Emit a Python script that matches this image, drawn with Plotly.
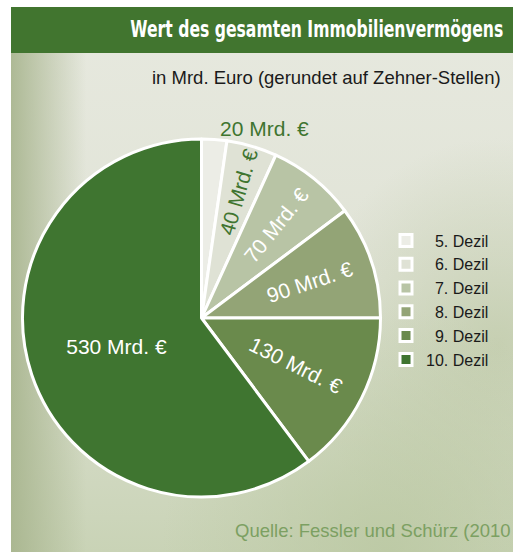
import base64
import plotly.graph_objects as go

# ---- data ----
labels = ["5. Dezil", "6. Dezil", "7. Dezil", "8. Dezil", "9. Dezil", "10. Dezil"]
values = [20, 40, 70, 90, 130, 530]
unit = "Mrd. €"
colors = ["#ecede6", "#dfe2d5", "#b8c4a5", "#93a476", "#6a8a4c", "#3f7530"]
text_colors = ["#3f7530", "#3f7530", "#ffffff", "#ffffff", "#ffffff", "#ffffff"]
title = "Wert des gesamten Immobilienvermögens"
subtitle = "in Mrd. Euro (gerundet auf Zehner-Stellen)"
source = "Quelle: Fessler und Schürz (2010"

W, H = 513, 552

# legend names padded with a figure space so "Dezil" lines up
legend_names = [("\u2007" if len(l.split(".")[0]) == 1 else "") + l for l in labels]
all_texts = [f"{v} {unit}" for v in values]
big = values.index(max(values))
texts_a = [t if i != big else "" for i, t in enumerate(all_texts)]
texts_b = [t if i == big else "" for i, t in enumerate(all_texts)]
positions = ["outside" if v == min(values) else "inside" for v in values]

dom_x = [22 / W, 381 / W]
dom_y = [1 - 497 / H, 1 - 139 / H]

font_main = "Liberation Sans, Arial, sans-serif"

fig = go.Figure()
fig.add_trace(go.Pie(
    labels=legend_names, values=values, sort=False, direction="clockwise", rotation=0,
    marker=dict(colors=colors, line=dict(color="#ffffff", width=3)),
    text=texts_a, textinfo="text", textposition=positions,
    insidetextorientation="radial",
    textfont=dict(family=font_main, size=21, color=text_colors),
    outsidetextfont=dict(family=font_main, size=21, color="#3f7530"),
    domain=dict(x=dom_x, y=dom_y), hoverinfo="label+value",
))
fig.add_trace(go.Pie(
    labels=[l + " " for l in labels], values=values, sort=False, direction="clockwise", rotation=0,
    marker=dict(colors=["rgba(0,0,0,0)"] * len(values), line=dict(width=0)),
    text=texts_b, textinfo="text", textposition="inside",
    insidetextorientation="horizontal",
    textfont=dict(family=font_main, size=21, color="#ffffff"),
    domain=dict(x=dom_x, y=dom_y), showlegend=False, hoverinfo="skip",
))

svg = """<svg xmlns="http://www.w3.org/2000/svg" width="502" height="545" viewBox="0 0 502 545" preserveAspectRatio="none">
<defs>
<linearGradient id="v" x1="0" y1="0" x2="0" y2="1">
<stop offset="0" stop-color="#e7e9df"/>
<stop offset="0.5" stop-color="#e0e3d6"/>
<stop offset="1" stop-color="#c9d3b6"/>
</linearGradient>
<linearGradient id="h" x1="0" y1="0" x2="1" y2="0">
<stop offset="0" stop-color="#a7b48d" stop-opacity="0.9"/>
<stop offset="0.15" stop-color="#a7b48d" stop-opacity="0"/>
</linearGradient>
<radialGradient id="r" cx="0.97" cy="0.62" r="0.38">
<stop offset="0" stop-color="#bfcaa8" stop-opacity="0.75"/>
<stop offset="1" stop-color="#bfcaa8" stop-opacity="0"/>
</radialGradient>
<radialGradient id="b" cx="0.75" cy="1.0" r="0.45">
<stop offset="0" stop-color="#b9c7a0" stop-opacity="0.75"/>
<stop offset="1" stop-color="#b9c7a0" stop-opacity="0"/>
</radialGradient>
</defs>
<rect width="502" height="545" fill="url(#v)"/>
<rect width="502" height="545" fill="url(#r)"/>
<rect width="502" height="545" fill="url(#b)"/>
<rect width="502" height="545" fill="url(#h)"/>
</svg>"""
src = "data:image/svg+xml;base64," + base64.b64encode(svg.encode("utf-8")).decode("ascii")

fig.update_layout(
    width=W, height=H, margin=dict(l=0, r=0, t=0, b=0),
    paper_bgcolor="#ffffff",
    uniformtext=dict(minsize=21, mode="show"),
    images=[dict(source=src, xref="paper", yref="paper", x=11 / W, y=1 - 7 / H,
                 sizex=1 - 11 / W, sizey=1 - 7 / H, sizing="stretch",
                 xanchor="left", yanchor="top", layer="below")],
    shapes=[dict(type="rect", xref="paper", yref="paper", x0=11 / W, x1=1,
                 y0=1 - 53 / H, y1=1 - 7 / H, fillcolor="#41752f", line=dict(width=0),
                 layer="below")],
    legend=dict(x=386 / W, y=1 - 300 / H, xanchor="left", yanchor="middle",
                bgcolor="rgba(0,0,0,0)", font=dict(family=font_main, size=16, color="#1a1a1a"),
                traceorder="normal"),
    annotations=[
        dict(text=title, x=(130 + 503) / 2 / W, y=1 - 31 / H, xref="paper", yref="paper",
             xanchor="center", yanchor="middle", showarrow=False,
             font=dict(family="DejaVu Sans, sans-serif",
                       size=17, color="#ffffff", weight="bold")),
        dict(text=subtitle, x=503 / W, y=1 - 78 / H, xref="paper", yref="paper",
             xanchor="right", yanchor="middle", showarrow=False,
             font=dict(family=font_main, size=18.5, color="#1a1a1a")),
        dict(text=source, x=233 / W, y=1 - 530 / H, xref="paper", yref="paper",
             xanchor="left", yanchor="middle", showarrow=False,
             font=dict(family=font_main, size=18.5, color="#7ca062")),
    ],
)

post = """
document.body.style.margin='0';
var t = document.querySelector('.annotation-text');
if (t) {
  t.style.fontSize = '23px';
  t.setAttribute('textLength', '373');
  t.setAttribute('lengthAdjust', 'spacingAndGlyphs');
}
"""
fig.write_html("out.html", post_script=post, config={"displayModeBar": False})
